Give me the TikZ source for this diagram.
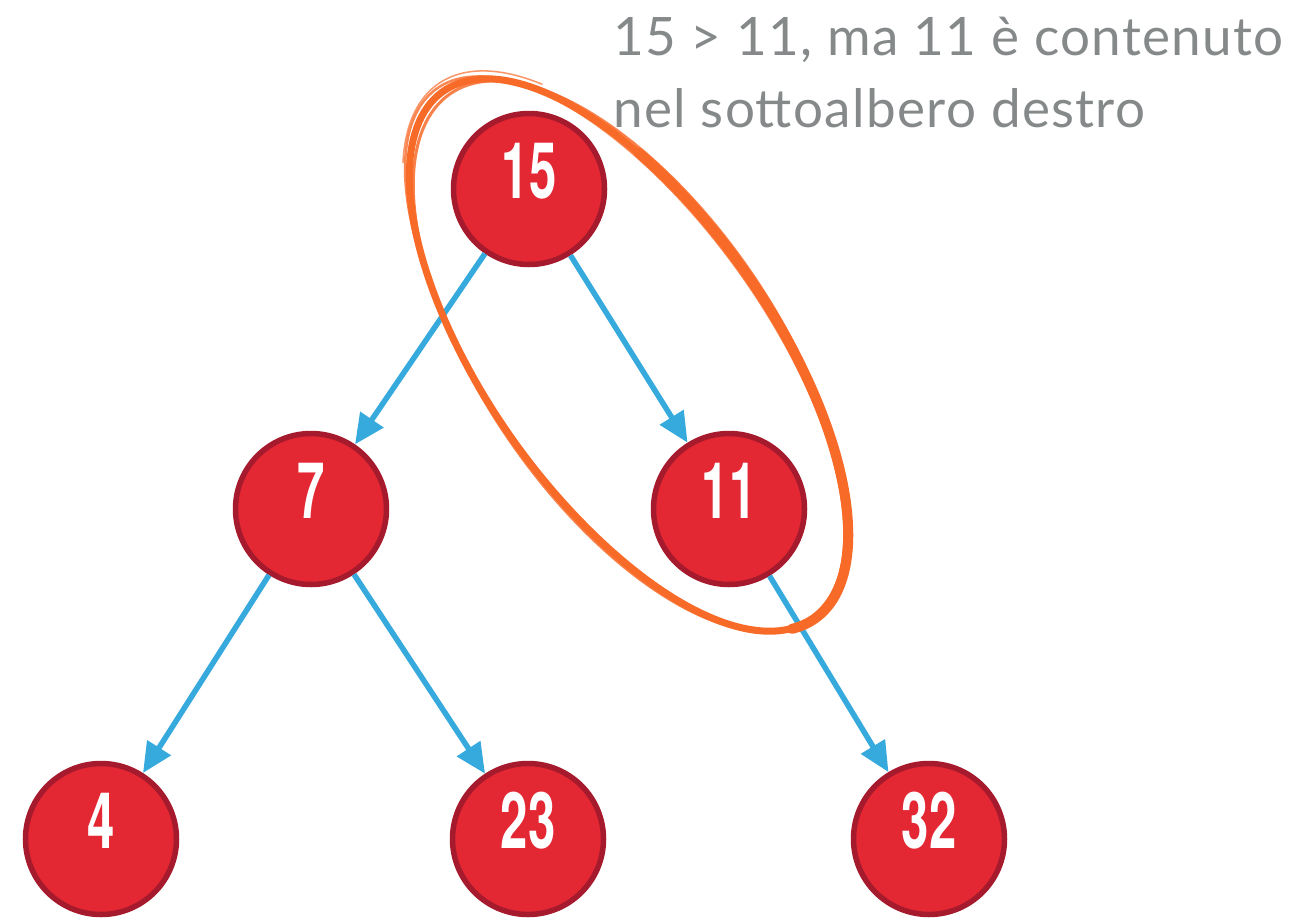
\documentclass[tikz,border=0pt]{standalone}
\usepackage{fontspec}
\setmainfont{Lato}
\newfontfamily\numfont{TeX Gyre Heros}
\usetikzlibrary{arrows.meta}
\definecolor{nodefill}{RGB}{227,39,51}
\definecolor{nodeborder}{RGB}{165,26,44}
\definecolor{edgeblue}{RGB}{54,169,221}
\definecolor{markorange}{RGB}{248,106,40}
\definecolor{notegray}{RGB}{133,137,137}
\newcommand{\numtxt}[1]{\raisebox{-9pt}[0pt][0pt]{\scalebox{0.63}[1]{\numfont\bfseries #1}}}
\begin{document}
\begin{tikzpicture}[x=1pt,y=-1pt,
  bnode/.style={circle, fill=nodefill, draw=nodeborder, line width=5.5pt, minimum size=151pt, inner sep=0pt, text=white, font=\fontsize{78}{78}\selectfont},
  edge/.style={draw=edgeblue, line width=5.5pt, -{Triangle[length=30pt,width=27pt]}},
  handmark/.style={draw=markorange, line cap=round, line join=round},
  note/.style={anchor=base west, inner sep=0pt, text=notegray, font=\fontsize{53}{53}\selectfont\addfontfeature{LetterSpace=2.5}}
]
\fill[white] (0,0) rectangle (1299,918);
\useasboundingbox (0,0) rectangle (1299,918);

% tree nodes
\node[bnode] (n15) at (529,189) {\numtxt{15}};
\node[bnode] (n7)  at (311,509) {\numtxt{7}};
\node[bnode] (n11) at (729,509) {\numtxt{11}};
\node[bnode] (n4)  at (101,839) {\numtxt{4}};
\node[bnode] (n23) at (528,839) {\numtxt{23}};
\node[bnode] (n32) at (929,839) {\numtxt{32}};

% edges
\draw[edge] (n15) -- (n7);
\draw[edge] (n15) -- (n11);
\draw[edge] (n7) -- (n4);
\draw[edge] (n7) -- (n23);
\draw[edge] (n11) -- (n32);

% hand-drawn ellipse
\draw[handmark, line width=7pt] plot[domain=0:360, samples=180, variable=\t]
  ({628 + 322*cos(\t)*cos(55) - 143*sin(\t)*sin(55)}, {355 + 322*cos(\t)*sin(55) + 143*sin(\t)*cos(55)});
\draw[handmark, line width=3pt, opacity=0.85] plot[domain=-20:345, samples=180, variable=\t]
  ({630 + 318*cos(\t)*cos(55.6) - 147*sin(\t)*sin(55.6)}, {356 + 318*cos(\t)*sin(55.6) + 147*sin(\t)*cos(55.6)});
\draw[handmark, line width=2.5pt, opacity=0.8] plot[domain=10:375, samples=180, variable=\t]
  ({626 + 326*cos(\t)*cos(54.5) - 140*sin(\t)*sin(54.5)}, {354 + 326*cos(\t)*sin(54.5) + 140*sin(\t)*cos(54.5)});
\draw[handmark, line width=10pt] plot[domain=240:370, samples=100, variable=\t]
  ({630 + 322*cos(\t)*cos(55) - 142*sin(\t)*sin(55)}, {355 + 322*cos(\t)*sin(55) + 142*sin(\t)*cos(55)});
\draw[handmark, line width=1.5pt, opacity=0.7] plot[domain=150:215, samples=60, variable=\t]
  ({628 + 331*cos(\t)*cos(55) - 148*sin(\t)*sin(55)}, {355 + 331*cos(\t)*sin(55) + 148*sin(\t)*cos(55)});

% note
\node[note] (note1) at (613,55) {15 > 11, ma 11 è contenuto};
\node[note] (note2) at (613,127) {nel sottoalbero destro};
\end{tikzpicture}
\end{document}
